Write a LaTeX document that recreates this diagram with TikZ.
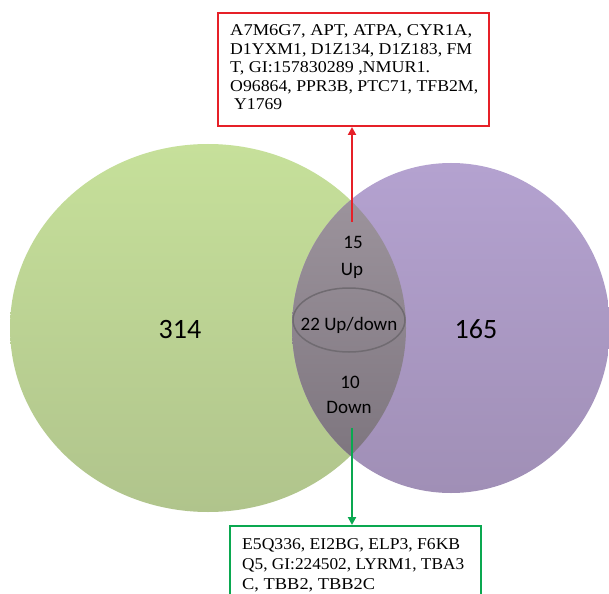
\documentclass[tikz,border=0pt]{standalone}
\usepackage{fontspec}
\setmainfont{Liberation Serif}
\newfontfamily\calfont{Carlito}
\usetikzlibrary{arrows.meta}
\definecolor{gtop}{RGB}{198,224,154}
\definecolor{gbot}{RGB}{176,196,140}
\definecolor{ptop}{RGB}{180,162,208}
\definecolor{pbot}{RGB}{160,143,182}
\definecolor{ltop}{RGB}{160,151,160}
\definecolor{lbot}{RGB}{122,114,123}
\definecolor{redc}{RGB}{230,32,40}
\definecolor{grnc}{RGB}{10,168,80}
\definecolor{ringc}{RGB}{112,107,113}
\newcommand{\wline}[2]{\resizebox{#1}{\height}{#2}}
\tikzset{
  boxtext/.style={anchor=base west, inner sep=0pt, font=\fontsize{16.5}{18}\selectfont},
  bignum/.style={anchor=base, inner sep=0pt, font=\calfont\fontsize{28}{30}\selectfont},
  midlbl/.style={anchor=base, inner sep=0pt, font=\calfont\fontsize{19}{21}\selectfont},
  genebox/.style={line width=2pt, anchor=north west, inner sep=0pt, fill=white},
  arr/.style={line width=2pt, -{Triangle[width=8pt,length=8pt]}}
}
\begin{document}
\begin{tikzpicture}[x=1pt,y=-1pt]
\useasboundingbox (0,0) rectangle (609,593);
\clip (0,0) rectangle (609,593);
\fill[white] (0,0) rectangle (609,593);
% circles
\shade[top color=gtop, bottom color=gbot] (208,328) ellipse [x radius=198, y radius=184];
\shade[top color=ptop, bottom color=pbot] (451,328) ellipse [x radius=159, y radius=165];
\begin{scope}
  \clip (208,328) ellipse [x radius=198, y radius=184];
  \shade[top color=ltop, bottom color=lbot] (451,328) ellipse [x radius=159, y radius=165];
\end{scope}
\draw[ringc, line width=1.5pt] (349,320) ellipse [x radius=56, y radius=32];
% numbers
\node[bignum] (n314) at (180,338) {314};
\node[bignum] (n165) at (476,338) {165};
\node[midlbl] (n15) at (353,248) {15};
\node[midlbl] (nup) at (352,275) {Up};
\node[midlbl] (n22) at (349,330) {22 Up/down};
\node[midlbl] (n10) at (350,388) {10};
\node[midlbl] (ndown) at (349,413) {Down};
\coordinate (upstart) at (352,222);
\coordinate (downstart) at (352,428);
% boxes
\node[genebox, draw=redc, minimum width=271pt, minimum height=113pt] (redbox) at (217,12) {};
\node[genebox, draw=grnc, minimum width=251pt, minimum height=90pt] (grnbox) at (229,525) {};
\node[boxtext] (r1) at (230,36) {\wline{242pt}{A7M6G7, APT, ATPA, CYR1A,}};
\node[boxtext] (r2) at (230,54.5) {\wline{242pt}{D1YXM1, D1Z134, D1Z183, FM}};
\node[boxtext] (r3) at (230,73) {\wline{200pt}{T, GI:157830289 ,NMUR1.}};
\node[boxtext] (r4) at (230,91.5) {\wline{248pt}{O96864, PPR3B, PTC71, TFB2M,}};
\node[boxtext] (r5) at (234,110) {\wline{48pt}{Y1769}};
\node[boxtext] (g1) at (242,549) {\wline{218pt}{E5Q336, EI2BG, ELP3, F6KB}};
\node[boxtext] (g2) at (242,569.5) {\wline{222pt}{Q5, GI:224502, LYRM1, TBA3}};
\node[boxtext] (g3) at (242,589) {\wline{133pt}{C, TBB2, TBB2C}};
% arrows
\draw[arr, redc] (upstart) -- (upstart |- redbox.south);
\draw[arr, grnc] (downstart) -- (downstart |- grnbox.north);
\end{tikzpicture}
\end{document}
